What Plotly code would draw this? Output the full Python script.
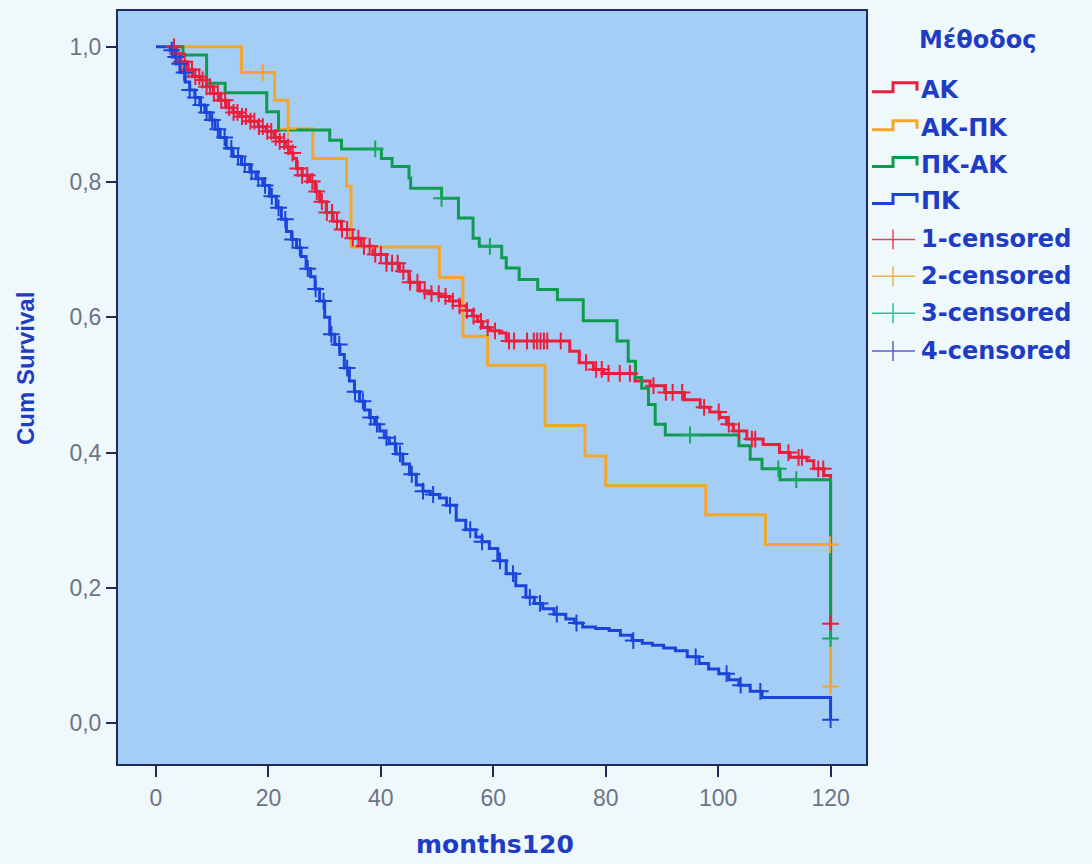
import plotly.graph_objects as go

# ---------------- data ----------------
# AK (group 1)
ak_t = [2.5, 3.5, 4.3, 5.5, 6.6, 7.8, 9.0, 10.2, 11.4, 12.5, 13.7, 15.0, 16.7, 18.2, 19.6,
        21.0, 22.0, 23.0, 23.8, 24.4, 25.0, 26.0, 27.3, 28.3, 29.1, 30.3, 31.5, 33.0, 34.7,
        36.5, 38.6, 41.0, 43.3, 45.0, 46.9, 48.5, 50.4, 52.2, 54.0, 55.2, 56.3, 57.2, 58.1,
        59.5, 61.1, 62.3, 73.6, 75.3, 77.8, 79.6, 85.2, 87.9, 90.5, 94.0, 96.8, 98.5, 100.3,
        101.5, 102.7, 105.1, 108.0, 110.9, 112.8, 115.8, 117.0, 118.8, 120.0, 120.0]
ak_s = [1.0, 0.99, 0.978, 0.966, 0.956, 0.951, 0.941, 0.931, 0.921, 0.91, 0.903, 0.897,
        0.89, 0.882, 0.875, 0.866, 0.86, 0.852, 0.843, 0.835, 0.82, 0.81, 0.801, 0.786,
        0.771, 0.755, 0.742, 0.73, 0.717, 0.705, 0.693, 0.68, 0.668, 0.652, 0.639, 0.635,
        0.631, 0.624, 0.617, 0.61, 0.602, 0.594, 0.585, 0.58, 0.577, 0.565, 0.55, 0.533,
        0.523, 0.517, 0.506, 0.499, 0.489, 0.478, 0.467, 0.46, 0.452, 0.442, 0.432, 0.42,
        0.412, 0.40, 0.393, 0.388, 0.376, 0.366, 0.366, 0.147]
ak_cens = [3.2, 3.8, 4.5, 5.1, 5.8, 6.4, 7.0, 7.7, 8.3, 9.0, 9.6, 10.3, 11.0, 11.6, 12.3,
           13.0, 13.8, 14.5, 15.3, 16.0, 16.8, 17.5, 18.3, 19.0, 19.8, 20.5, 21.3, 22.0,
           22.8, 23.5, 24.3, 25.2, 26.0, 26.9, 27.8, 28.6, 29.5, 30.4, 31.3, 32.2, 33.1,
           34.0, 35.0, 36.0, 37.0, 38.0, 39.0, 40.0, 41.0, 42.0, 43.0, 44.0, 45.2, 46.5,
           47.8, 49.0, 50.3, 51.5, 52.8, 54.0, 55.3, 56.5, 57.8, 59.0, 60.3, 62.8, 63.7,
           66.0, 67.2, 67.8, 68.4, 69.0, 69.6, 72.0, 76.5, 78.3, 79.3, 80.5, 82.5, 84.3,
           88.5, 90.7, 91.9, 93.6, 97.5, 100.1, 101.9, 103.7, 106.0, 106.6, 112.5, 114.3,
           114.9, 117.8, 118.7, 120]

# AK-ΠΚ (group 2)
akpk_t = [2.5, 15.2, 21.1, 23.5, 27.9, 33.9, 34.7, 50.4, 54.6, 59.0, 69.2, 76.3, 80.0,
          97.8, 108.4, 120.0, 120.0]
akpk_s = [1.0, 0.962, 0.921, 0.879, 0.835, 0.794, 0.704, 0.659, 0.572, 0.529, 0.44, 0.395,
          0.351, 0.308, 0.264, 0.264, 0.054]
akpk_cens = [19.0, 23.5, 119.9, 120]

# ΠΚ-ΑΚ (group 3)
pkak_t = [2.5, 4.8, 9.0, 12.3, 19.7, 21.8, 30.9, 33.0, 40.1, 42.0, 45.0, 45.3, 50.8, 53.8,
          56.4, 57.5, 61.5, 62.3, 64.6, 67.9, 71.4, 76.0, 82.0, 84.0, 85.3, 86.4, 87.6, 88.8,
          90.6, 103.7, 105.7, 107.8, 111.0, 120.0, 120.0]
pkak_s = [1.0, 0.988, 0.946, 0.932, 0.904, 0.877, 0.862, 0.849, 0.835, 0.823, 0.806, 0.791,
          0.776, 0.747, 0.717, 0.705, 0.688, 0.673, 0.656, 0.641, 0.626, 0.595, 0.565, 0.535,
          0.511, 0.495, 0.471, 0.442, 0.426, 0.41, 0.39, 0.376, 0.36, 0.36, 0.125]
pkak_cens = [39.0, 50.8, 59.4, 95.0, 110.7, 113.9, 120]

# ΠΚ (group 4)
pk_t = [0, 2.5, 3.1, 3.7, 4.3, 5.2, 6.0, 6.9, 7.8, 8.7, 9.6, 10.5, 11.4, 12.5, 13.7, 15.2,
        16.7, 17.8, 19.0, 20.2, 21.4, 22.3, 23.2, 24.1, 25.0, 25.8, 26.7, 27.5, 28.3, 29.1,
        30.0, 30.9, 31.8, 32.7, 33.5, 34.4, 35.3, 36.2, 37.1, 38.0, 38.9, 39.8, 40.6, 41.5,
        42.7, 43.9, 45.1, 46.3, 47.5, 48.8, 50.4, 51.7, 53.4, 55.1, 56.9, 58.0, 59.3, 60.8,
        62.3, 64.0, 65.8, 67.3, 68.8, 70.8, 72.9, 74.4, 75.9, 78.2, 80.6, 82.6, 84.7, 86.5,
        88.3, 90.3, 92.4, 94.5, 96.6, 98.3, 100.1, 101.9, 103.7, 105.7, 107.8, 120.0, 120.0]
pk_s = [1.0, 0.995, 0.985, 0.975, 0.962, 0.948, 0.936, 0.925, 0.914, 0.903, 0.892, 0.878,
        0.866, 0.85, 0.838, 0.826, 0.815, 0.805, 0.795, 0.779, 0.762, 0.745, 0.727, 0.715,
        0.703, 0.69, 0.672, 0.66, 0.642, 0.624, 0.6, 0.575, 0.56, 0.545, 0.525, 0.506, 0.49,
        0.476, 0.463, 0.452, 0.442, 0.432, 0.422, 0.413, 0.398, 0.383, 0.368, 0.352, 0.343,
        0.338, 0.333, 0.322, 0.3, 0.286, 0.275, 0.268, 0.258, 0.24, 0.221, 0.203, 0.186,
        0.177, 0.169, 0.161, 0.154, 0.148, 0.142, 0.14, 0.137, 0.13, 0.122, 0.118, 0.115,
        0.111, 0.107, 0.098, 0.088, 0.08, 0.073, 0.064, 0.056, 0.047, 0.038, 0.038, 0.005]
pk_cens = [2.8, 3.5, 4.2, 5.0, 6.0, 7.0, 8.0, 9.0, 10.0, 11.0, 12.2, 13.4, 14.6, 15.8, 17.0,
           18.2, 19.4, 20.6, 21.8, 23.0, 24.3, 25.6, 27.0, 28.4, 29.8, 31.2, 32.6, 34.0,
           35.4, 36.8, 38.2, 39.3, 41.0, 42.5, 43.4, 45.5, 47.5, 49.3, 52.3, 55.9, 58.0,
           61.2, 63.5, 66.5, 68.3, 71.3, 74.8, 84.9, 96.0, 101.5, 104.0, 107.5, 120]

group_names = ["ΑΚ", "ΑΚ-ΠΚ", "ΠΚ-ΑΚ", "ΠΚ"]
censor_names = ["1-censored", "2-censored", "3-censored", "4-censored"]
line_colors = ["#ec1e3c", "#f4a62a", "#0f9b4f", "#1b45da"]
cens_colors = ["#e8405c", "#f0b040", "#1fc88a", "#5a5ad6"]
cens_on_line = ["#ec1e3c", "#f4a62a", "#16a85f", "#1b45da"]

x_ticks = [0, 20, 40, 60, 80, 100, 120]
y_ticks = [0.0, 0.2, 0.4, 0.6, 0.8, 1.0]


def surv_at(ts, ss, t):
    val = ss[0]
    for ti, si in zip(ts, ss):
        if ti <= t:
            val = si
        else:
            break
    return val


groups = [(ak_t, ak_s, ak_cens), (akpk_t, akpk_s, akpk_cens),
          (pkak_t, pkak_s, pkak_cens), (pk_t, pk_s, pk_cens)]

fig = go.Figure()
for (ts, ss, cs), name, col in zip(groups, group_names, line_colors):
    fig.add_trace(go.Scatter(x=ts, y=ss, mode="lines", line=dict(color=col, width=3, shape="hv"),
                             name=name, showlegend=False, hoverinfo="skip"))
for (ts, ss, cs), name, col in zip(groups, censor_names, cens_on_line):
    fig.add_trace(go.Scatter(x=cs, y=[surv_at(ts, ss, c) for c in cs], mode="markers",
                             marker=dict(symbol="cross-thin", size=12,
                                         line=dict(color=col, width=2)),
                             name=name, showlegend=False, hoverinfo="skip"))

# ---------------- layout ----------------
L, R, T, B = 118, 866, 9, 764
W, H = 1092, 864


def px(x):
    return (x - L) / (R - L)


def py(y):
    return (B - y) / (B - T)


text_blue = "#1f3cc4"
axis_dark = "#1e2a5e"
tick_font = dict(family="Liberation Sans, Arial, sans-serif", size=23, color="#6e7385")

fig.update_layout(
    width=W, height=H,
    margin=dict(l=L, r=W - R, t=T, b=H - B, pad=0),
    paper_bgcolor="#eff9fc",
    plot_bgcolor="#a5cef7",
    separators=", ",
    showlegend=False,
    xaxis=dict(range=[-6.76, 126.3], tickvals=x_ticks, ticks="outside", ticklen=11,
               tickwidth=2, tickcolor=axis_dark, showline=True, mirror=True,
               linecolor=axis_dark, linewidth=2, showgrid=False, zeroline=False,
               tickfont=tick_font, ticklabelstandoff=1),
    yaxis=dict(range=[-0.0605, 1.053], tickvals=y_ticks, tickformat=".1f", ticks="outside",
               ticklen=10, tickwidth=2, tickcolor=axis_dark, showline=True, mirror=True,
               linecolor=axis_dark, linewidth=2, showgrid=False, zeroline=False,
               tickfont=tick_font, ticklabelstandoff=0),
)

annotations = []
shapes = []
# axis titles
annotations.append(dict(text="<b>months120</b>", xref="paper", yref="paper",
                        x=px(495), y=py(845), showarrow=False, xanchor="center",
                        yanchor="middle",
                        font=dict(family="DejaVu Sans", size=25, color=text_blue)))
annotations.append(dict(text="<b>Cum Survival</b>", xref="paper", yref="paper",
                        x=px(25), y=py(368), showarrow=False, textangle=-90,
                        xanchor="center", yanchor="middle",
                        font=dict(family="Liberation Sans, Arial", size=24, color=text_blue)))

# legend (drawn manually)
annotations.append(dict(text="<b>Μέθοδος</b>", xref="paper", yref="paper",
                        x=px(977), y=py(38), showarrow=False, xanchor="center",
                        yanchor="middle",
                        font=dict(family="DejaVu Sans", size=24, color=text_blue)))
leg_y = [88, 126, 163, 200, 238, 275, 312, 350]
labels = group_names + censor_names
for i, (lab, yc) in enumerate(zip(labels, leg_y)):
    annotations.append(dict(text="<b>" + lab + "</b>", xref="paper", yref="paper",
                            x=px(919), y=py(yc), showarrow=False, xanchor="left",
                            yanchor="middle",
                            font=dict(family="DejaVu Sans", size=24, color=text_blue)))
    if i < 4:
        col = line_colors[i]
        path = "M {} {} L {} {} L {} {} L {} {} L {} {}".format(
            px(872), py(yc + 2), px(893), py(yc + 2), px(893), py(yc - 7),
            px(917), py(yc - 7), px(917), py(yc + 1))
        shapes.append(dict(type="path", path=path, xref="paper", yref="paper",
                           line=dict(color=col, width=3)))
    else:
        col = cens_colors[i - 4]
        shapes.append(dict(type="line", xref="paper", yref="paper", x0=px(872), x1=px(915),
                           y0=py(yc), y1=py(yc), line=dict(color=col, width=1.5)))
        shapes.append(dict(type="line", xref="paper", yref="paper", x0=px(893), x1=px(893),
                           y0=py(yc - 10), y1=py(yc + 10), line=dict(color=col, width=1.5)))

fig.update_layout(annotations=annotations, shapes=shapes)

fig.write_html("out.html")
